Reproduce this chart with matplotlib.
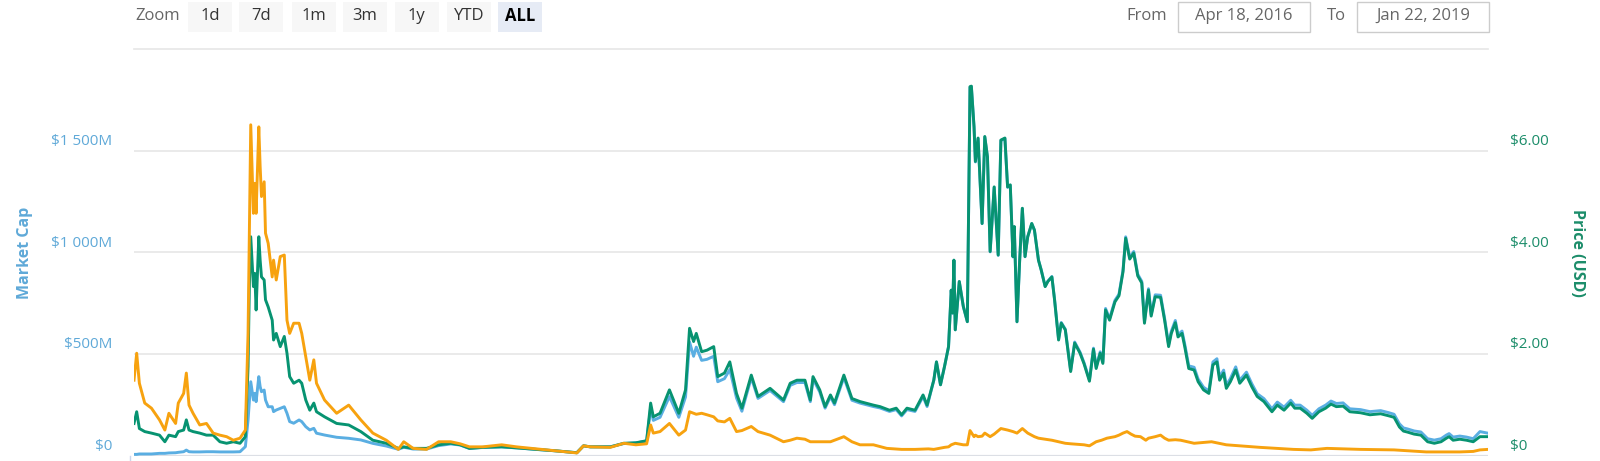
import matplotlib
matplotlib.use("Agg")
import matplotlib.pyplot as plt
import matplotlib.transforms as mtransforms
from matplotlib.patches import Rectangle
from matplotlib.lines import Line2D
import pandas as pd

plt.rcParams['font.family'] = ['Open Sans', 'DejaVu Sans']

# ---------------- data ----------------
start_date = "2016-04-18"
end_date = "2019-01-22"

# days since start for the USD series (market cap & price)
days_usd = [0, 2, 4, 8, 13, 19, 23, 26, 31, 33, 37, 39, 41, 44, 49, 54, 59, 64, 69, 74, 79, 83,
            85, 86, 87, 89, 90, 91, 93, 94, 95, 97, 98, 100, 103, 104, 106, 109, 112, 114, 116, 119,
            123, 125, 128, 131, 134, 136, 142, 151, 160, 169, 178, 188, 197, 201, 208, 218, 227, 236,
            243, 250, 260, 274, 285, 300, 315, 330, 335, 340, 355, 365, 374, 382,
            385, 387, 392, 399, 406, 411, 414, 417, 419, 423, 427, 432, 435, 440, 444, 449, 453,
            460, 465, 474, 484, 489, 494, 500, 504, 506, 511, 515, 519, 522, 529, 535, 541, 551,
            556, 563, 568, 572, 576, 582, 588, 591,
            596, 598, 601, 604, 607, 609, 610, 611, 612, 615, 618, 621, 623, 624, 626, 627, 629, 630,
            632, 634, 636, 638, 641, 644, 646, 649, 651, 653, 655, 656, 658, 660, 662, 664, 666, 669,
            671, 674, 676, 679, 681, 684, 686, 689, 691, 694, 698, 701, 705, 708, 712, 715, 717, 720,
            722, 724, 727, 731, 734, 737, 739, 742, 745, 748, 751, 753, 756, 758, 761, 765, 768, 771,
            773, 776, 778, 781, 783, 786, 790, 793, 797, 801,
            804, 807, 809, 812, 814, 817, 821, 824, 829, 833, 837, 842, 848, 852, 857, 862, 865, 869,
            874, 878, 883, 888, 892, 896, 901, 906, 914, 921, 929, 935, 939, 943, 946, 949, 954, 959,
            964, 969, 974, 978, 980, 983, 988, 993, 998, 1003, 1009]

price_usd = [0.64, 0.87, 0.54, 0.48, 0.45, 0.41, 0.28, 0.41, 0.38, 0.48, 0.51, 0.71, 0.51, 0.48,
             0.45, 0.41, 0.41, 0.28, 0.25, 0.28, 0.25, 0.38,
             1.76, 3.39, 4.31, 3.33, 3.59, 2.87, 4.31, 3.85, 3.52, 3.46, 3.07, 2.93, 2.67, 2.28,
             2.41, 2.15, 2.35, 2.02, 1.56, 1.43, 1.49, 1.43, 1.10, 0.90, 1.04, 0.87, 0.77, 0.64,
             0.61, 0.48, 0.31, 0.25, 0.15, 0.18, 0.15, 0.15, 0.22, 0.25,
             0.22, 0.15, 0.17, 0.18, 0.16, 0.13, 0.10, 0.065, 0.20, 0.18, 0.18, 0.25, 0.26, 0.30,
             1.04, 0.77, 0.84, 1.30, 0.84, 1.30, 2.51, 2.25, 2.41, 2.05, 2.08, 2.15, 1.56, 1.63,
             1.85, 1.23, 0.94,
             1.59, 1.17, 1.33, 1.10, 1.43, 1.49, 1.49, 1.10, 1.56, 1.30, 0.97, 1.20, 1.04, 1.59,
             1.13, 1.07, 1.00,
             0.97, 0.90, 0.94, 0.81, 0.94, 0.90, 1.20, 1.00,
             1.49, 1.85, 1.40, 1.76, 2.15, 3.26, 2.81, 3.85, 2.48, 3.43, 2.94, 2.64, 7.26, 7.27,
             6.47, 5.79, 6.25, 5.69, 4.57, 6.28, 5.88, 4.02, 5.29, 3.95, 6.21, 6.25, 5.29, 5.33,
             3.92, 4.51, 2.64, 3.85, 4.87, 3.92, 4.31, 4.57, 4.44, 3.85, 3.66, 3.33, 3.43, 3.52,
             3.07, 2.28, 2.61, 2.48, 1.66, 2.22, 2.02, 1.81, 1.47, 2.10, 1.72, 2.02, 1.82, 2.87,
             2.67, 3.03, 3.15, 3.62, 4.28, 3.87, 3.99, 3.54, 3.40, 2.61, 3.26, 2.75, 3.13, 3.12,
             2.67, 2.15, 2.41, 2.62, 2.34, 2.41, 2.15, 1.72, 1.69, 1.46, 1.30, 1.23,
             1.79, 1.85, 1.49, 1.63, 1.33, 1.46, 1.69, 1.43, 1.59, 1.36, 1.17, 1.07, 0.87, 1.00,
             0.90, 1.04, 0.94, 0.94, 0.84, 0.74, 0.87, 0.94, 1.02, 0.97, 0.98, 0.87, 0.85, 0.81,
             0.83, 0.79, 0.76, 0.57, 0.49, 0.47, 0.43, 0.41, 0.28, 0.25, 0.28, 0.35, 0.38, 0.31,
             0.33, 0.31, 0.28, 0.38, 0.38]

market_cap_m = [8, 8, 10, 10, 10, 13, 13, 15, 16, 18, 21, 29, 21, 20, 20, 21, 21, 20, 20, 20, 21, 46,
                177, 275, 365, 275, 308, 267, 390, 341, 316, 324, 275, 242, 242, 218, 226, 234,
                242, 210, 169, 161, 177, 169, 144, 128, 136, 112, 103, 92, 87, 79, 62, 49, 33, 43,
                34, 34, 51, 59,
                54, 37, 42, 45, 40, 32, 25, 16, 50, 45, 45, 61, 64, 74,
                236, 175, 190, 292, 190, 290, 560, 490, 535, 470, 475, 490, 365, 380, 425, 285, 220,
                385, 283, 322, 267, 347, 361, 361, 267, 378, 315, 235, 291, 252, 386, 274, 260, 243,
                236, 219, 228, 197, 228, 219, 292, 243,
                372, 462, 350, 440, 537, 815, 702, 962, 620, 857, 735, 660, 1812, 1815, 1615, 1445,
                1560, 1420, 1142, 1568, 1468, 1003, 1320, 986, 1550, 1560, 1320, 1330, 978, 1126,
                659, 961, 1216, 979, 1077, 1142, 1110, 963, 916, 834, 859, 882, 770, 573, 656, 623,
                420, 560, 510, 458, 374, 530, 437, 512, 462, 725, 675, 765, 795, 912, 1077, 975,
                1005, 893, 858, 660, 822, 695, 792, 790, 677, 548, 613, 666, 596, 614, 550, 443,
                436, 378, 338, 320,
                462, 478, 388, 422, 348, 380, 438, 372, 412, 355, 306, 282, 232, 265, 240, 274, 250,
                250, 225, 200, 232, 250, 270, 258, 261, 232, 228, 218, 223, 213, 205, 158, 138, 133,
                123, 118, 85, 78, 85, 103, 110, 93, 98, 93, 85, 120, 112]

# days since start for the BTC price series
days_btc = [0, 2, 4, 8, 13, 19, 23, 26, 31, 33, 37, 39, 41, 44, 49, 54, 59, 64, 69, 74, 79, 83,
            85, 86, 87, 89, 90, 91, 93, 94, 95, 97, 98, 100, 103, 104, 106, 109, 112, 114, 116, 119,
            123, 125, 128, 131, 134, 136, 142, 151, 160, 169, 178, 188, 197, 201, 208, 218, 227, 236,
            243, 250, 260, 274, 285, 300, 315, 330, 335, 340, 355, 365, 374, 382, 385, 387, 392, 399,
            406, 411, 414, 417, 419, 423, 427, 432, 435, 440, 444, 449, 453, 460, 465, 474, 484, 489,
            494, 500, 504, 511, 519, 529, 535, 541, 551, 561, 572, 582, 592,
            596, 604, 607, 609, 612, 618, 621, 623, 626, 627, 629, 632, 634, 638, 641, 646, 651, 655,
            658, 662, 666, 671, 674, 679, 684, 689, 694, 698, 708, 712, 717, 721, 725, 731, 734, 737,
            740, 743, 746, 750, 754, 756, 761, 765, 768, 771, 776, 780,
            790, 803, 814, 839, 864, 877, 889, 914, 939, 963, 988, 998, 1003, 1009]

price_btc = [0.00149, 0.00202, 0.00143, 0.00104, 0.00094, 0.00071, 0.00051, 0.00084, 0.00064,
             0.00104, 0.00123, 0.00163, 0.00100, 0.00084, 0.00061, 0.00064, 0.00045, 0.00041,
             0.00038, 0.00031, 0.00035, 0.00051,
             0.00241, 0.00438, 0.00651, 0.00477, 0.00536, 0.00477, 0.00647, 0.00569, 0.00510,
             0.00539, 0.00438, 0.00418, 0.00352, 0.00385, 0.00346, 0.00392, 0.00395, 0.00267,
             0.00241, 0.00261, 0.00261, 0.00241, 0.00195, 0.00149, 0.00189, 0.00143, 0.00110,
             0.00084, 0.00100, 0.00071, 0.00045, 0.00031, 0.00013, 0.00028, 0.00015, 0.00013,
             0.00028, 0.00028,
             0.00024, 0.00018, 0.00018, 0.00022, 0.00018, 0.00014, 0.00010, 0.00006, 0.00020,
             0.00018, 0.00017, 0.00025, 0.00022, 0.00024, 0.00061, 0.00045, 0.00048, 0.00064,
             0.00041, 0.00051, 0.00087, 0.00084, 0.00082, 0.00084, 0.00081, 0.00077, 0.00069,
             0.00067, 0.00074, 0.00048, 0.00050, 0.00058, 0.00048, 0.00041, 0.00028, 0.00031,
             0.00035, 0.00033, 0.00028, 0.00028, 0.00028, 0.00038, 0.00028, 0.00022, 0.00022,
             0.00015, 0.00013, 0.00013, 0.00014,
             0.00013, 0.00017, 0.00018, 0.00022, 0.00025, 0.00022, 0.00022, 0.00050, 0.00038,
             0.00041, 0.00038, 0.00039, 0.00045, 0.00038, 0.00043, 0.00054, 0.00051, 0.00048,
             0.00045, 0.00054, 0.00045, 0.00038, 0.00035, 0.00033, 0.00031, 0.00028, 0.00025,
             0.00024, 0.00022, 0.00020, 0.00028, 0.00031, 0.00035, 0.00038, 0.00041, 0.00045,
             0.00048, 0.00043, 0.00039, 0.00038, 0.00031, 0.00035, 0.00038, 0.00041, 0.00035,
             0.00031, 0.00032, 0.00031,
             0.00025, 0.00028, 0.00022, 0.00017, 0.00013, 0.00012, 0.00015, 0.00013, 0.00012,
             0.00008, 0.00008, 0.00009, 0.00012, 0.00013]

cap_ticks = [0, 500, 1000, 1500]
cap_tick_labels = ["$0", "$500M", "$1 000M", "$1 500M"]
usd_ticks = [0, 2, 4, 6]
usd_tick_labels = ["$0", "$2.00", "$4.00", "$6.00"]
zoom_buttons = ["1d", "7d", "1m", "3m", "1y", "YTD", "ALL"]
selected_button = "ALL"
from_label = "Apr 18, 2016"
to_label = "Jan 22, 2019"

assert len(days_usd) == len(price_usd) == len(market_cap_m), (len(days_usd), len(price_usd), len(market_cap_m))
assert len(days_btc) == len(price_btc), (len(days_btc), len(price_btc))

# ---------------- styling ----------------
C_BLUE = "#5aaee2"
C_GREEN = "#079371"
C_ORANGE = "#f7a20f"
C_BLUE_TXT = "#5fa9d8"
C_GREEN_TXT = "#1c8d6a"
GRID = "#e6e6e6"

W, H = 1600, 461
fig = plt.figure(figsize=(W / 100, H / 100), dpi=100)

def fx(px):
    return px / W

def fy(py):
    return 1 - py / H

left_px, right_px, top_px, bottom_px = 134, 1488, 49, 456
ax = fig.add_axes([fx(left_px), fy(bottom_px), fx(right_px - left_px), (bottom_px - top_px) / H])
ax2 = ax.twinx()
ax3 = ax.twinx()

t0 = pd.Timestamp(start_date)
t1 = pd.Timestamp(end_date)
dates_usd = t0 + pd.to_timedelta(days_usd, unit="D")
dates_btc = t0 + pd.to_timedelta(days_btc, unit="D")

LW = 2.1
ax.plot(dates_usd, market_cap_m, color=C_BLUE, lw=LW, solid_joinstyle="round", zorder=3)
ax2.plot(dates_usd, price_usd, color=C_GREEN, lw=LW, solid_joinstyle="round", zorder=3)
ax3.plot(dates_btc, price_btc, color=C_ORANGE, lw=LW, solid_joinstyle="round", zorder=3)

for a in (ax, ax2, ax3):
    a.set_xlim(t0, t1)
    for s in a.spines.values():
        s.set_visible(False)
    a.set_xticks([])
    a.set_yticks([])
    a.patch.set_visible(False)
ax.set_ylim(0, 2000)
ax2.set_ylim(0, 8)
ax3.set_ylim(0, 0.008)

for v in cap_ticks[1:]:
    ax.axhline(v, color=GRID, lw=1.2, zorder=1)
ax.axhline(0, color="#dcdfe5", lw=1.6, zorder=1)

btrans = mtransforms.blended_transform_factory(ax.transAxes, ax.transData)
for v, lab in zip(cap_ticks, cap_tick_labels):
    ax.annotate(lab, xy=(0, v), xycoords=btrans, xytext=(-22, 9.5), textcoords="offset pixels",
                ha="right", va="center", fontsize=11, color=C_BLUE_TXT)
btrans2 = mtransforms.blended_transform_factory(ax2.transAxes, ax2.transData)
for v, lab in zip(usd_ticks, usd_tick_labels):
    ax2.annotate(lab, xy=(1, v), xycoords=btrans2, xytext=(22, 9.5), textcoords="offset pixels",
                 ha="left", va="center", fontsize=11, color=C_GREEN_TXT)

fig.text(fx(25), fy(253), "Market Cap", rotation=90, ha="center", va="center",
         fontsize=11.5, fontweight="bold", color=C_BLUE_TXT)
fig.text(fx(1577), fy(253), "Price (USD)", rotation=-90, ha="center", va="center",
         fontsize=11.5, fontweight="bold", color=C_GREEN_TXT)

# small tick at the lower left
fig.add_artist(Line2D([fx(130), fx(130)], [fy(456), fy(461)], color="#ccd6eb", lw=1))

# ---------------- range selector header ----------------
fig.text(fx(157.5), fy(16), "Zoom", ha="center", va="center", fontsize=12, color="#666666")
btn_centers = [210, 261, 313.5, 365, 416.5, 469, 520]
for cx, lab in zip(btn_centers, zoom_buttons):
    sel = lab == selected_button
    fig.add_artist(Rectangle((fx(cx - 22), fy(32)), fx(44), 30 / H,
                             facecolor="#e6ebf5" if sel else "#f7f7f7", edgecolor="none"))
    fig.text(fx(cx), fy(16), lab, ha="center", va="center", fontsize=12,
             color="#000000" if sel else "#333333", fontweight="bold" if sel else "normal")

fig.text(fx(1147), fy(16), "From", ha="center", va="center", fontsize=12, color="#666666")
fig.text(fx(1336.5), fy(16), "To", ha="center", va="center", fontsize=12, color="#666666")
for x0, x1, lab in [(1178, 1310, from_label), (1357, 1489, to_label)]:
    fig.add_artist(Rectangle((fx(x0), fy(32)), fx(x1 - x0), 30 / H,
                             facecolor="white", edgecolor="#cccccc", lw=1))
    fig.text(fx((x0 + x1) / 2), fy(16), lab, ha="center", va="center", fontsize=12, color="#666666")

fig.add_artist(Line2D([fx(134), fx(1488)], [fy(49), fy(49)], color=GRID, lw=1.2))

fig.savefig("out.png", dpi=100)
